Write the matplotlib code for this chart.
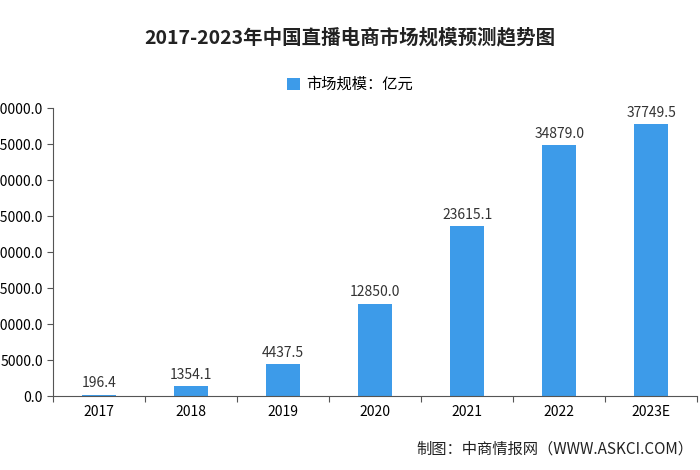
import matplotlib
matplotlib.use("Agg")
import matplotlib.pyplot as plt

plt.rcParams['font.family'] = ['Noto Sans CJK SC', 'DejaVu Sans']

categories = ["2017", "2018", "2019", "2020", "2021", "2022", "2023E"]
values = [196.4, 1354.1, 4437.5, 12850.0, 23615.1, 34879.0, 37749.5]
yticks = [0, 5000, 10000, 15000, 20000, 25000, 30000, 35000, 40000]

fig = plt.figure(figsize=(7, 4.7), dpi=100)
ax = fig.add_axes([0.076, 0.157, 0.92, 0.613])
x = range(len(categories))
bars = ax.bar(x, values, width=0.37, color="#3d9be9", label="市场规模：亿元")
for xi, v in zip(x, values):
    ax.text(xi, v + 600, f"{v:.1f}", ha="center", va="bottom", fontsize=10, color="#333333")
ax.set_xlim(-0.5, len(categories) - 0.5)
ax.set_ylim(0, 40000)
ax.set_yticks(yticks)
ax.set_yticklabels([f"{t:.1f}" for t in yticks], fontsize=10)
ax.set_xticks([i - 0.5 for i in range(len(categories) + 1)], minor=False)
ax.set_xticklabels([])
ax.set_xticks(list(x), minor=True)
ax.set_xticklabels(categories, minor=True, fontsize=10)
ax.tick_params(axis='x', which='minor', length=0, pad=6)
ax.tick_params(axis='x', which='major', length=4, color="#555555")
ax.tick_params(axis='y', length=4, color="#555555")
for s in ["top", "right"]:
    ax.spines[s].set_visible(False)
for s in ["left", "bottom"]:
    ax.spines[s].set_color("#555555")
fig.text(0.5, 0.92, "2017-2023年中国直播电商市场规模预测趋势图", ha="center", va="center",
         fontsize=14, fontweight="bold", color="#222222")
fig.legend(handles=[bars], labels=["市场规模：亿元"], loc="center", bbox_to_anchor=(0.5, 0.82),
           frameon=False, fontsize=11, handlelength=0.8, handleheight=0.8, handletextpad=0.4)
fig.text(0.99, 0.045, "制图：中商情报网（WWW.ASKCI.COM）", ha="right", va="center", fontsize=11, color="#222222")
fig.savefig("out.png", dpi=100)
